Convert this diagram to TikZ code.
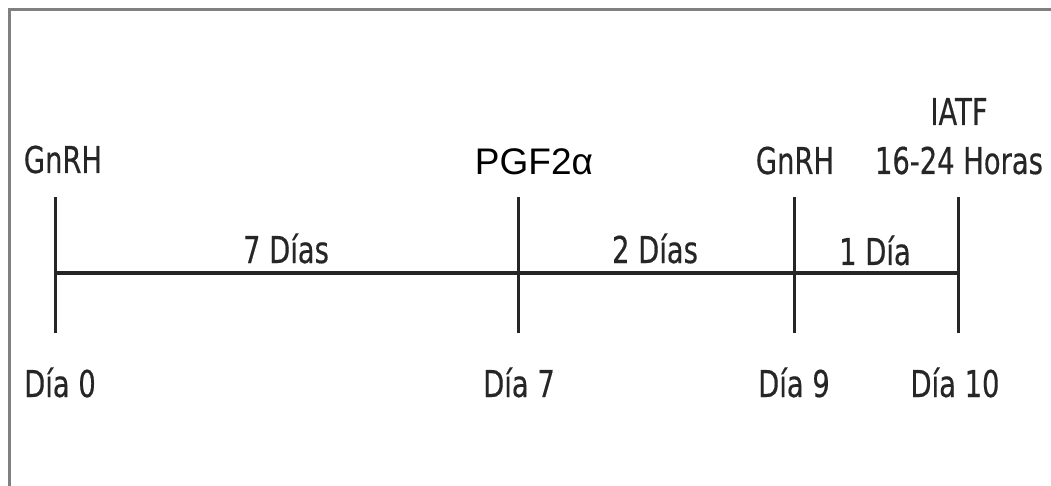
\documentclass[tikz,border=0pt]{standalone}
\usepackage{fontspec}
\newfontfamily\tah[FakeStretch=0.74,FakeBold=0.4]{DejaVu Sans}
\newfontfamily\ari{Liberation Sans}
\begin{document}
\begin{tikzpicture}[x=1pt,y=-1pt,
  lbl/.style={inner sep=0pt,anchor=base,font=\tah\fontsize{37}{40}\selectfont,text=black!85},
  pgf/.style={inner sep=0pt,anchor=base,font=\ari\fontsize{37}{40}\selectfont,text=black},
  axis/.style={line width=3.5pt,black!85},
  tick/.style={line width=3pt,black!85},
  frame/.style={line width=3pt,black!50}]
\useasboundingbox (0,0) rectangle (1051,486);
% frame
\coordinate (fbl) at (9,490);
\coordinate (ftl) at (9,10);
\coordinate (ftr) at (1055,10);
\draw[frame] (fbl) -- (ftl) -- (ftr);
% timeline points
\coordinate (t0) at (55,273);
\coordinate (t7) at (518,273);
\coordinate (t9) at (794,273);
\coordinate (t10) at (958,273);
\foreach \n/\x in {t0/55,t7/518,t9/794,t10/958}{
  \coordinate (\n top) at (\x,197);
  \coordinate (\n bot) at (\x,333);
}
\draw[axis] (t0) -- (t7) -- (t9) -- (t10);
\foreach \n in {t0,t7,t9,t10}{\draw[tick] (\n top) -- (\n bot);}
% top labels
\node[lbl] (g1) at (63,173) {GnRH};
\node[pgf] (pg) at (534,175) {PGF2α};
\node[lbl] (g2) at (795,174) {GnRH};
\node[lbl] (iatf) at (959,125) {IATF};
\node[lbl] (hor) at (959,174) {16-24 Horas};
% interval labels
\node[lbl] (d7) at (286,263) {7 Días};
\node[lbl] (d2) at (655,263) {2 Días};
\node[lbl] (d1) at (875,265) {1 Día};
% bottom labels
\node[lbl] (b0) at (60,397) {Día 0};
\node[lbl] (b7) at (519,397) {Día 7};
\node[lbl] (b9) at (794,397) {Día 9};
\node[lbl] (b10) at (955,397) {Día 10};
\end{tikzpicture}
\end{document}
